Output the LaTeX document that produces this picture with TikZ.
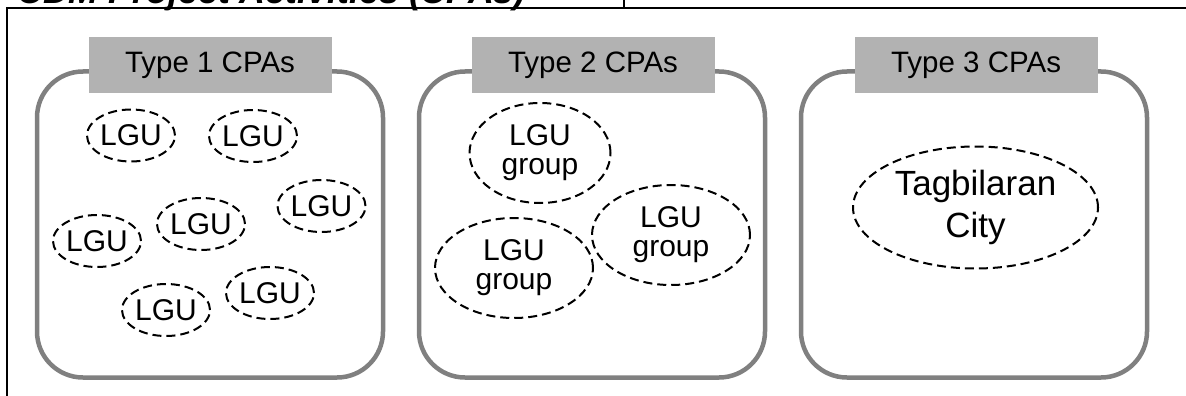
\documentclass[tikz,border=0pt]{standalone}
\usepackage{fontspec}
\setmainfont{Liberation Sans}
\usetikzlibrary{shapes.geometric}
\begin{document}
\begin{tikzpicture}[x=1pt,y=-1pt,
  cpaframe/.style={draw=black!50, line width=4.5pt, rounded corners=46pt,
    minimum width=346pt, minimum height=306pt, inner sep=0pt},
  cpalabel/.style={fill=black!30, minimum width=243pt, minimum height=56pt,
    inner sep=0pt, font=\fontsize{29.5}{29.5}\selectfont},
  unit/.style={ellipse, draw, dash pattern=on 9pt off 5pt, line width=2pt,
    inner sep=0pt, align=center, font=\fontsize{30}{29}\selectfont},
  lgu/.style={unit, minimum width=88pt, minimum height=52pt},
  grp/.style={unit, minimum width=158pt, minimum height=100pt},
  rule/.style={line width=1.8pt}]
\clip (0,0) rectangle (1186,396);

% table rules around the figure
\draw[rule] (7.3,396) -- (7.3,8) -- (1186,8);
\draw[line width=1.5pt] (624,0) -- (624,8);
\node[anchor=base west, inner sep=0pt,
  font=\fontsize{35.8}{35.8}\selectfont\bfseries\itshape] (title) at (17,4)
  {CDM Project Activities (CPAs)};

% the three CPA groups
\node[cpaframe] (frame1) at (210,224.5) {};
\node[cpaframe] (frame2) at (592,224.5) {};
\node[cpaframe] (frame3) at (974,224.5) {};
\node[cpalabel] (type1) at (210,65) {Type 1 CPAs};
\node[cpalabel] (type2) at (593,65) {Type 2 CPAs};
\node[cpalabel] (type3) at (976,65) {Type 3 CPAs};

% Type 1: single LGUs
\node[lgu] (lgu1) at (131,135.5) {LGU};
\node[lgu] (lgu2) at (253,136) {LGU};
\node[lgu] (lgu3) at (321.5,206) {LGU};
\node[lgu] (lgu4) at (201,224) {LGU};
\node[lgu] (lgu5) at (97,241) {LGU};
\node[lgu] (lgu6) at (270,293) {LGU};
\node[lgu] (lgu7) at (166,310) {LGU};

% Type 2: LGU groups
\node[grp, minimum width=141pt] (grp1) at (540,153) {LGU\\group};
\node[grp] (grp2) at (514,268) {LGU\\group};
\node[grp] (grp3) at (671,235) {LGU\\group};

% Type 3: a single city
\node[unit, minimum width=245pt, minimum height=122pt,
  font=\fontsize{35}{42.4}\selectfont] (city) at (975.5,207.5) {Tagbilaran\\City};
\end{tikzpicture}
\end{document}
